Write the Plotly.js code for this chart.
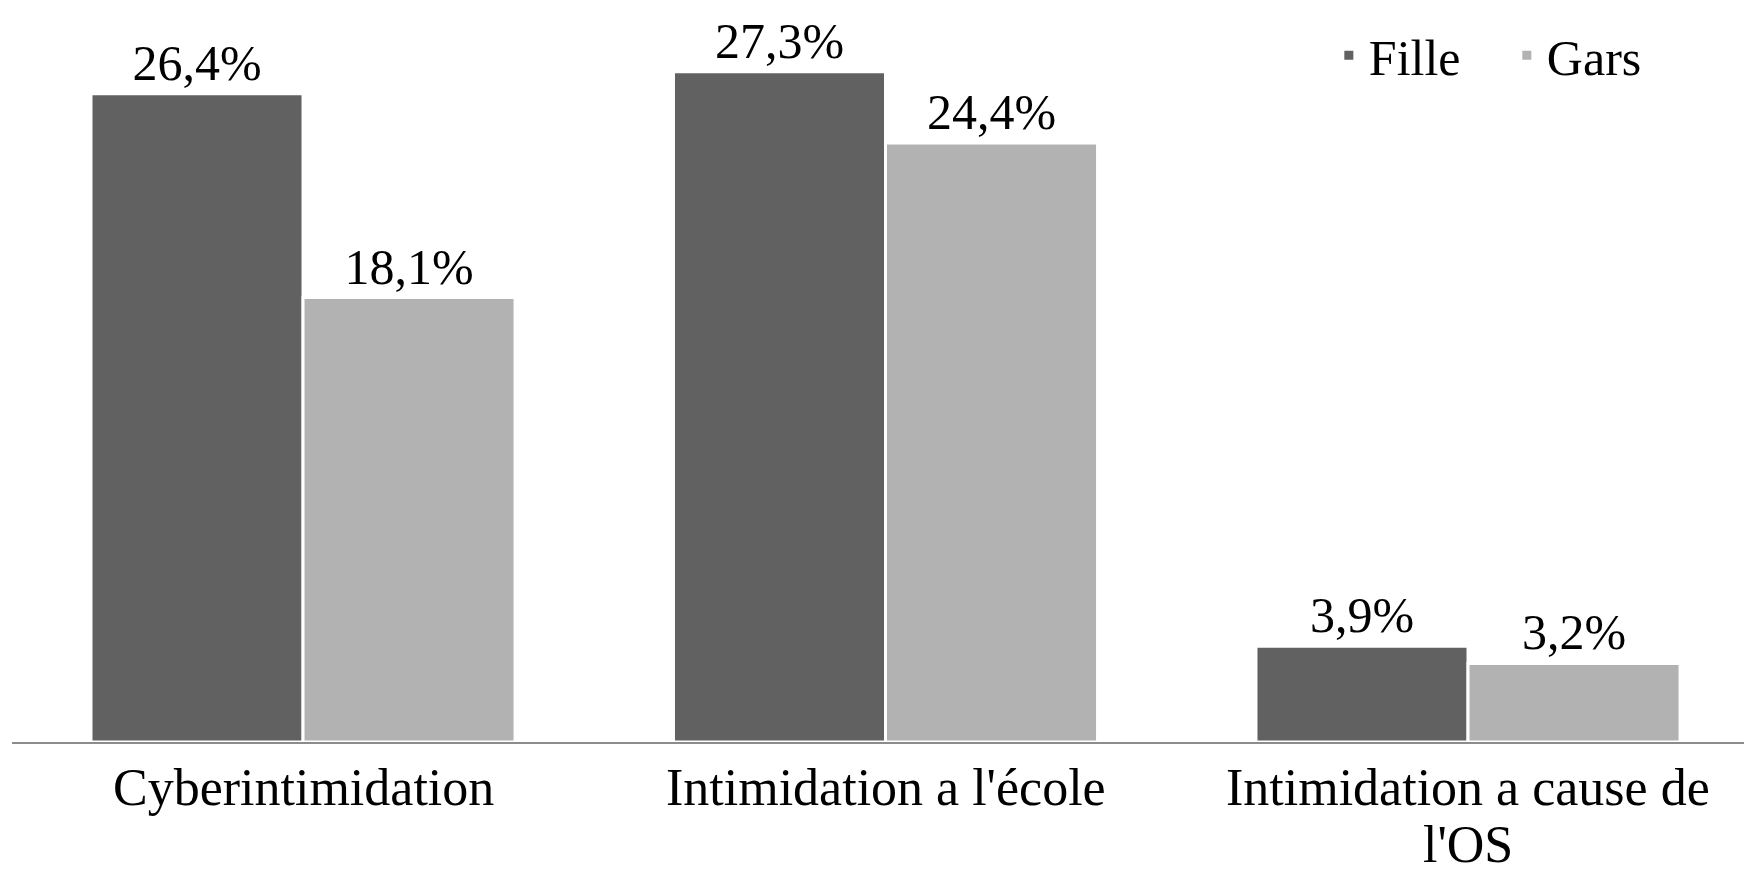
<!DOCTYPE html>
<html>
<head>
<meta charset="utf-8">
<script src="https://cdn.plot.ly/plotly-3.0.1.min.js"></script>
<style>html,body{margin:0;padding:0;background:#fff;}#chart{width:1744px;height:873px;}</style>
</head>
<body>
<div id="chart"></div>
<script>
var categories = ['Cyberintimidation', "Intimidation a l'école", "Intimidation a cause de<br>l'OS"];
var seriesNames = ['Fille', 'Gars'];
var filleValues = [26.4, 27.3, 3.9];
var garsValues = [18.1, 24.4, 3.2];

var FONT = 'Liberation Serif, Times New Roman, serif';

function barTrace(name, values, color) {
  return {
    type: 'bar',
    name: name,
    x: categories,
    y: values,
    marker: {color: color, line: {color: '#ffffff', width: 3}},
    texttemplate: '%{y:.1f}%',
    textposition: 'outside',
    textfont: {family: FONT, size: 50, color: '#000000'},
    cliponaxis: false,
    hoverinfo: 'skip'
  };
}

var data = [
  barTrace(seriesNames[0], filleValues, '#616161'),
  barTrace(seriesNames[1], garsValues, '#b2b2b2')
];

var annotations = [];
categories.forEach(function (cat, i) {
  cat.split('<br>').forEach(function (line, j) {
    annotations.push({
      x: cat, xref: 'x', y: 0, yref: 'y',
      xanchor: 'center', yanchor: 'top',
      yshift: -(15.5 + j * 57.5),
      borderpad: 0,
      text: line, showarrow: false,
      font: {family: FONT, size: 52, color: '#000000'}
    });
  });
});

var layout = {
  width: 1744, height: 873,
  margin: {l: 12, r: 0, t: 0, b: 131, pad: 0},
  paper_bgcolor: '#ffffff', plot_bgcolor: '#ffffff',
  separators: ', ',
  barmode: 'group',
  bargap: 0.272,
  bargroupgap: 0,
  font: {family: FONT, color: '#000000'},
  xaxis: {
    type: 'category',
    range: [-0.4996, 2.4738],
    showticklabels: false,
    ticks: '',
    showline: true, linecolor: '#8c8c8c', linewidth: 2,
    showgrid: false, zeroline: false, fixedrange: true
  },
  yaxis: {
    range: [0, 30.22],
    visible: false, showgrid: false, zeroline: false, fixedrange: true
  },
  showlegend: true,
  legend: {
    orientation: 'h',
    x: 0.7603, xanchor: 'left',
    y: 0.978, yanchor: 'top',
    entrywidthmode: 'pixels',
    entrywidth: 133,
    font: {family: FONT, size: 50, color: '#000000'},
    bgcolor: 'rgba(0,0,0,0)',
    traceorder: 'normal'
  },
  annotations: annotations
};

Plotly.newPlot('chart', data, layout, {staticPlot: true, displayModeBar: false});
</script>
</body>
</html>
